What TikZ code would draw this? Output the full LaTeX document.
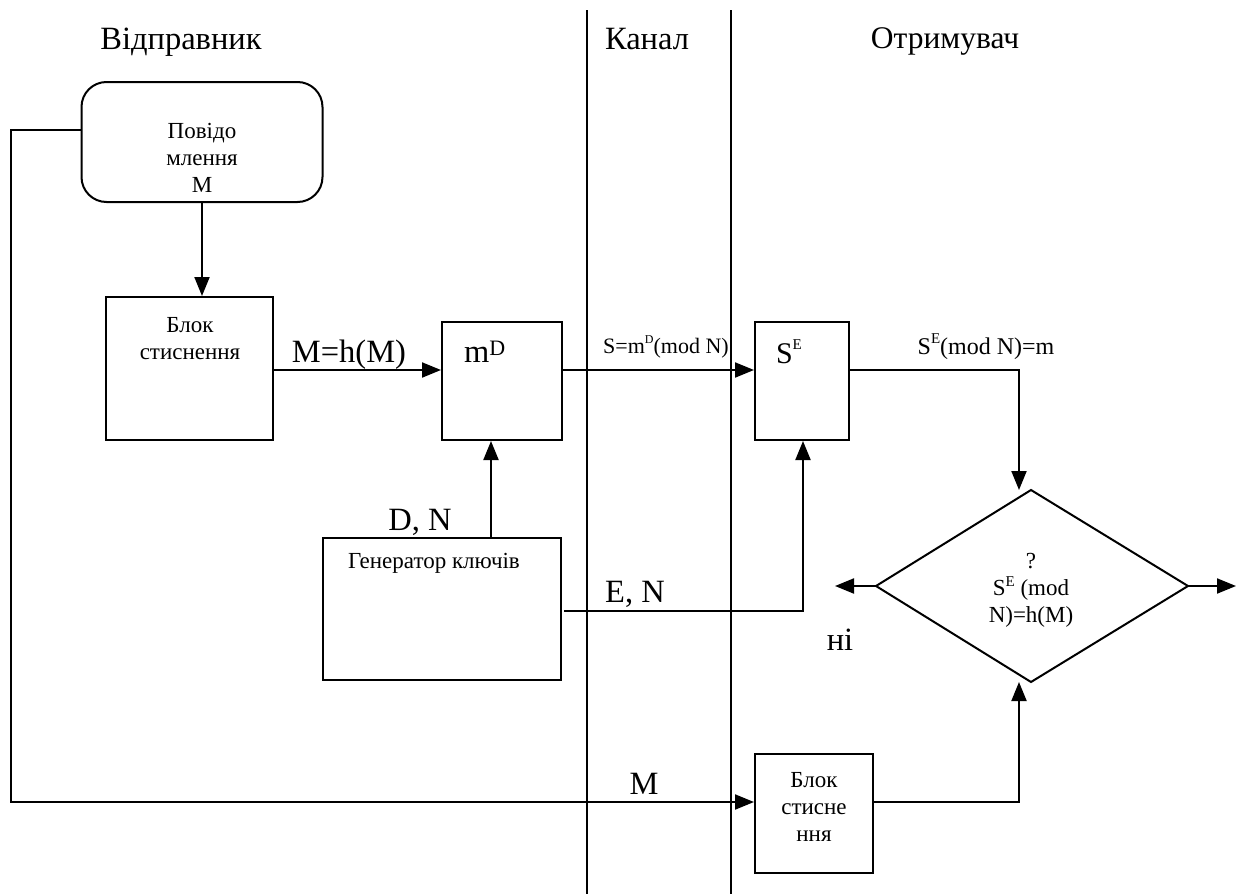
\documentclass[tikz,border=0pt]{standalone}
\usepackage{fontspec}
\setmainfont{Liberation Serif}
\usetikzlibrary{arrows.meta}
% stacked, centred lines whose baseline is the first line's baseline
\newcommand\stk[1]{\begin{tabular}[t]{@{}c@{}}#1\end{tabular}}
\newcommand\bigtxt{\fontsize{32.5}{38}\selectfont}
\newcommand\smalltxt{\fontsize{23}{27}\selectfont}
% raised index: #1 raise, #2 size, #3 text
\newcommand\suptxt[3]{\raisebox{#1}{\fontsize{#2}{#2}\selectfont #3}}
\begin{document}
\begin{tikzpicture}[x=1pt,y=-1pt,line width=2pt,
  box/.style={draw,rectangle,inner sep=0pt},
  lbl/.style={inner sep=0pt,anchor=base,font=\smalltxt},
  biglbl/.style={inner sep=0pt,anchor=base,font=\bigtxt},
  arr/.style={-{Triangle[length=19pt,width=15pt]}}]
\path[fill=white,use as bounding box] (0,0) rectangle (1237,894);

% channel borders
\coordinate (ch1t) at (587,10);  \coordinate (ch1b) at (587,894);
\coordinate (ch2t) at (731,10);  \coordinate (ch2b) at (731,894);
\draw (ch1t) -- (ch1b);
\draw (ch2t) -- (ch2b);

% column headings
\node[biglbl] (hsend) at (181,49) {Відправник};
\node[biglbl] (hchan) at (647,49) {Канал};
\node[biglbl,font=\fontsize{31.5}{37}\selectfont] (hrecv) at (945,48) {Отримувач};

% sender side
\node[box,rounded corners=25pt,minimum width=241,minimum height=120] (msg) at (202,142) {};
\node[lbl] (msgtxt) at (202,138) {\stk{Повідо\\млення\\M}};

\node[box,minimum width=167,minimum height=143] (comp1) at (189.5,368.5) {};
\node[lbl] (comp1txt) at (190,332) {\stk{Блок\\стиснення}};

\node[box,minimum width=120,minimum height=118] (mD) at (502,381) {};
\node[biglbl,anchor=base west] (mDtxt) at (463,362) {m\suptxt{7pt}{22}{D}};

\node[box,minimum width=238,minimum height=142] (gen) at (442,609) {};
\node[lbl] (gentxt) at (434,568) {Генератор ключів};

% receiver side
\node[box,minimum width=94,minimum height=118] (SE) at (802,381) {};
\node[biglbl,anchor=base west,font=\fontsize{30}{36}\selectfont] (SEtxt) at (775,363) {S\suptxt{14pt}{15}{E}};

\node[box,minimum width=118,minimum height=119] (comp2) at (814,813.5) {};
\node[lbl] (comp2txt) at (814,787) {\stk{Блок\\стисне\\ння}};

% decision
\coordinate (dT) at (1031,490);
\coordinate (dL) at (876,586);
\coordinate (dR) at (1188,586);
\coordinate (dB) at (1031,682);
\draw (dT) -- (dR) -- (dB) -- (dL) -- cycle;
\node[lbl] (dtxt) at (1031,568) {\stk{?\\S\suptxt{9pt}{15}{E} (mod\\N)=h(M)}};
\coordinate (outNo) at (835,586);
\coordinate (outYes) at (1236,586);

% routing rows and columns
\coordinate (rowM) at (0,130);
\coordinate (rowA) at (0,370);
\coordinate (rowK) at (0,611);
\coordinate (rowB) at (0,802);
\coordinate (colL) at (11,0);
\coordinate (colG) at (491,0);
\coordinate (colK) at (803,0);
\coordinate (colR) at (1019,0);

% connectors
\draw[arr] (msg.south) -- (msg.south |- comp1.north);
\draw[arr] (comp1.east |- rowA) -- (mD.west |- rowA);
\draw[arr] (mD.east |- rowA) -- (SE.west |- rowA);
\draw[arr] (SE.east |- rowA) -| (colR |- dT);
\draw[arr] (colG |- gen.north) -- (colG |- mD.south);
\draw[arr] ([xshift=2pt]gen.east |- rowK) -| (colK |- SE.south);
\draw[arr] (dL) -- (outNo);
\draw[arr] (dR) -- (outYes);
\draw[arr] (comp2.east |- rowB) -| (colR |- dB);
\draw[arr] (msg.west |- rowM) -| (colL |- rowB) -- (comp2.west |- rowB);

% connector labels
\node[biglbl] (lMh) at (349,362) {M=h(M)};
\node[lbl,font=\fontsize{22}{26}\selectfont] (lS) at (666,353) {S=m\suptxt{10pt}{12}{D}(mod N)};
\node[lbl,font=\fontsize{24}{28}\selectfont] (lSE) at (986,354) {S\suptxt{11pt}{15}{E}(mod N)=m};
\node[biglbl] (lDN) at (420,530) {D, N};
\node[biglbl] (lEN) at (635,602) {E, N};
\node[biglbl] (lno) at (840,650) {ні};
\node[biglbl] (lM) at (644,794) {M};
\end{tikzpicture}
\end{document}
